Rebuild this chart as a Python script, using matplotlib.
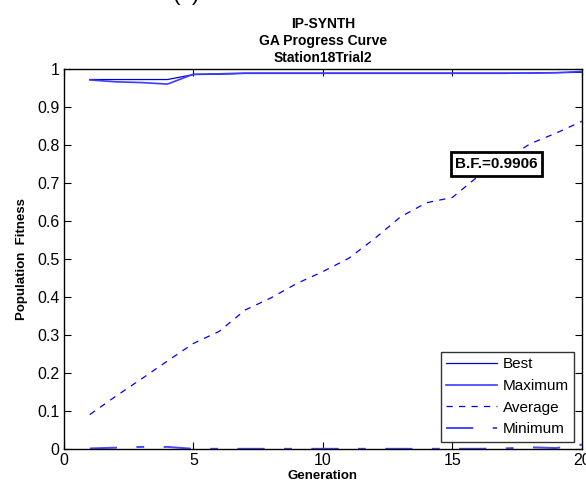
import matplotlib
matplotlib.use('Agg')
import matplotlib.pyplot as plt
from matplotlib.ticker import FormatStrFormatter

plt.rcParams['font.family'] = ['Liberation Sans', 'DejaVu Sans']

generations = list(range(1, 21))
best = [0.972, 0.972, 0.972, 0.972, 0.985, 0.986, 0.988, 0.988, 0.988, 0.988,
        0.988, 0.988, 0.988, 0.988, 0.988, 0.988, 0.988, 0.989, 0.990, 0.991]
maximum = [0.971, 0.966, 0.964, 0.960, 0.986, 0.987, 0.989, 0.989, 0.989, 0.989,
           0.989, 0.989, 0.989, 0.989, 0.989, 0.989, 0.989, 0.989, 0.990, 0.993]
average = [0.091, 0.139, 0.185, 0.232, 0.278, 0.310, 0.366, 0.398, 0.436, 0.467,
           0.502, 0.554, 0.611, 0.648, 0.662, 0.718, 0.759, 0.803, 0.831, 0.862]
minimum = [0.002, 0.004, 0.006, 0.006, 0.001, 0.001, 0.001, 0.001, 0.001, 0.001,
           0.001, 0.001, 0.001, 0.001, 0.001, 0.001, 0.002, 0.005, 0.003, 0.012]

fig = plt.figure(figsize=(5.86, 4.92), dpi=100)
ax = fig.add_axes([0.109, 0.087, 0.884, 0.773])

ax.plot(generations, best, color='#0000cc', lw=0.9, label='Best')
ax.plot(generations, maximum, color='#3c3cff', lw=1.2, label='Maximum')
ax.plot(generations, average, color='#0000ff', lw=0.9, dashes=(5, 5), label='Average')
ax.plot(generations, minimum, color='#4848ff', lw=1.4, dashes=(14, 10, 4, 10), label='Minimum')

ax.set_xlim(0, 20)
ax.set_ylim(0, 1)
ax.set_xticks([0, 5, 10, 15, 20])
ax.set_yticks([i / 10 for i in range(11)])
ax.yaxis.set_major_formatter(FormatStrFormatter('%g'))
ax.tick_params(direction='in', top=True, right=True, length=5, width=0.8,
               labelsize=11.5, pad=3)
for s in ax.spines.values():
    s.set_linewidth(1.0)

ax.set_xlabel('Generation', fontsize=9.5, fontweight='bold', labelpad=1)
ax.set_ylabel('Population  Fitness', fontsize=9.5, fontweight='bold', labelpad=7)
ax.set_title('IP-SYNTH\nGA Progress Curve\nStation18Trial2', fontsize=10,
             fontweight='bold', linespacing=1.25, pad=5)

ax.text(16.7, 0.75, 'B.F.=0.9906', fontsize=11, fontweight='bold', ha='center', va='center',
        bbox=dict(boxstyle='square,pad=0.3', fc='white', ec='black', lw=2))

leg = ax.legend(loc='lower right', fontsize=11, frameon=True, fancybox=False,
                edgecolor='black', handlelength=3.3, handletextpad=0.4,
                labelspacing=0.5, borderpad=0.35, borderaxespad=0.5)
leg.get_frame().set_linewidth(1.0)

fig.text(0.294, 1.0, '(a)', fontsize=16, ha='left', va='baseline')

fig.savefig('out.png', dpi=100)
